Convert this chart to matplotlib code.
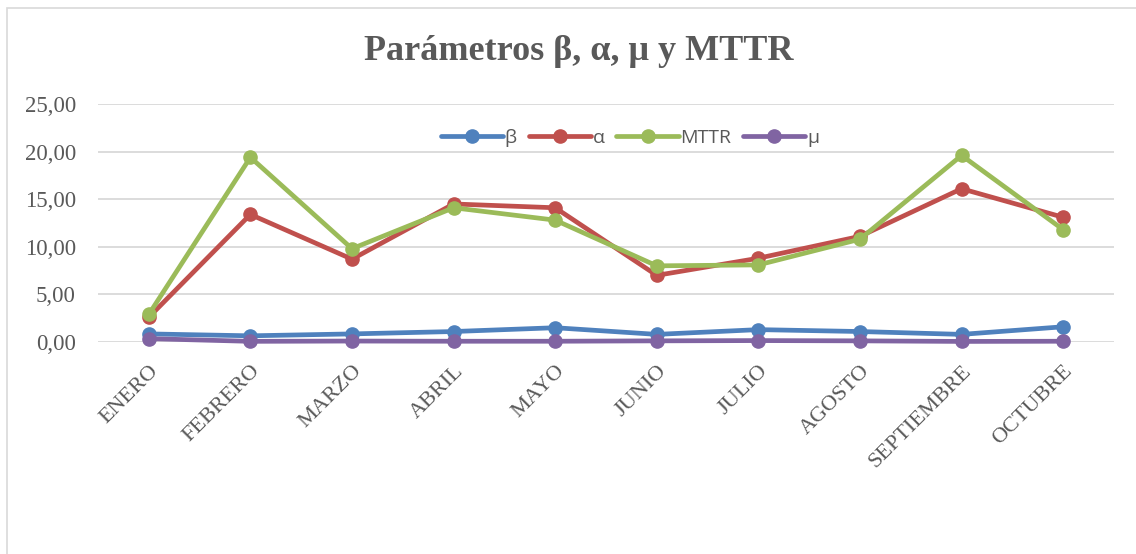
import matplotlib
matplotlib.use("Agg")
import matplotlib.pyplot as plt
from matplotlib.patches import Rectangle

months = ["ENERO", "FEBRERO", "MARZO", "ABRIL", "MAYO", "JUNIO", "JULIO",
          "AGOSTO", "SEPTIEMBRE", "OCTUBRE"]
beta = [0.85, 0.65, 0.85, 1.1, 1.5, 0.8, 1.3, 1.1, 0.8, 1.6]
alpha = [2.6, 13.4, 8.7, 14.5, 14.1, 7.0, 8.8, 11.1, 16.1, 13.1]
mttr = [2.9, 19.4, 9.8, 14.1, 12.8, 8.0, 8.1, 10.8, 19.6, 11.8]
mu = [0.35, 0.07, 0.1, 0.08, 0.08, 0.12, 0.15, 0.12, 0.06, 0.08]
yticks = [0, 5, 10, 15, 20, 25]
ytick_labels = ["0,00", "5,00", "10,00", "15,00", "20,00", "25,00"]

series = [("β", beta, "#4f81bd"), ("α", alpha, "#c0504d"),
          ("MTTR", mttr, "#9bbb59"), ("μ", mu, "#8064a2")]

W, H = 1136, 554
fig = plt.figure(figsize=(W / 100, H / 100), dpi=100)
fig.patch.set_facecolor("white")

# chart border
fig.patches.append(Rectangle((7 / W, -0.01), 1.2, 1 - 8 / H + 0.01,
                             transform=fig.transFigure, fill=False,
                             edgecolor="#d9d9d9", linewidth=1.2))

left, right = 98 / W, 1114 / W
bottom, top = 1 - 342 / H, 1 - 104 / H
ax = fig.add_axes([left, bottom, right - left, top - bottom])

x = list(range(len(months)))
for name, vals, col in series:
    ax.plot(x, vals, color=col, linewidth=3.4, marker="o", markersize=9.5,
            label=name, solid_capstyle="round", zorder=3, clip_on=False)

ax.set_xlim(-0.5, len(months) - 0.5)
ax.set_ylim(0, 25)
ax.set_yticks(yticks)
ax.set_yticklabels(ytick_labels, fontfamily="Liberation Serif", fontsize=16.5,
                   color="#595959")
ax.set_xticks(x)
ax.set_xticklabels(months, rotation=45, ha="right", rotation_mode="anchor",
                   fontfamily="Liberation Serif", fontsize=16, color="#595959")
ax.tick_params(axis="both", length=0)
ax.tick_params(axis="y", pad=16)
ax.tick_params(axis="x", pad=14)
for s in ax.spines.values():
    s.set_visible(False)
ax.grid(axis="y", color="#d9d9d9", linewidth=1.3, zorder=0)
ax.set_axisbelow(True)

leg = ax.legend(loc="center", bbox_to_anchor=((630 / W - left) / (right - left),
                (1 - 138 / H - bottom) / (top - bottom)),
                ncol=4, frameon=False, handlelength=3.2,
                columnspacing=0.6, handletextpad=0.1,
                prop={"family": "Open Sans", "size": 14})
for t in leg.get_texts():
    t.set_color("#595959")

fig.text(579 / W, 1 - 51 / H, "Parámetros β, α, μ y MTTR", ha="center",
         va="center", fontfamily="Liberation Serif", fontweight="bold",
         fontsize=26, color="#595959")

fig.savefig("out.png", dpi=100)
